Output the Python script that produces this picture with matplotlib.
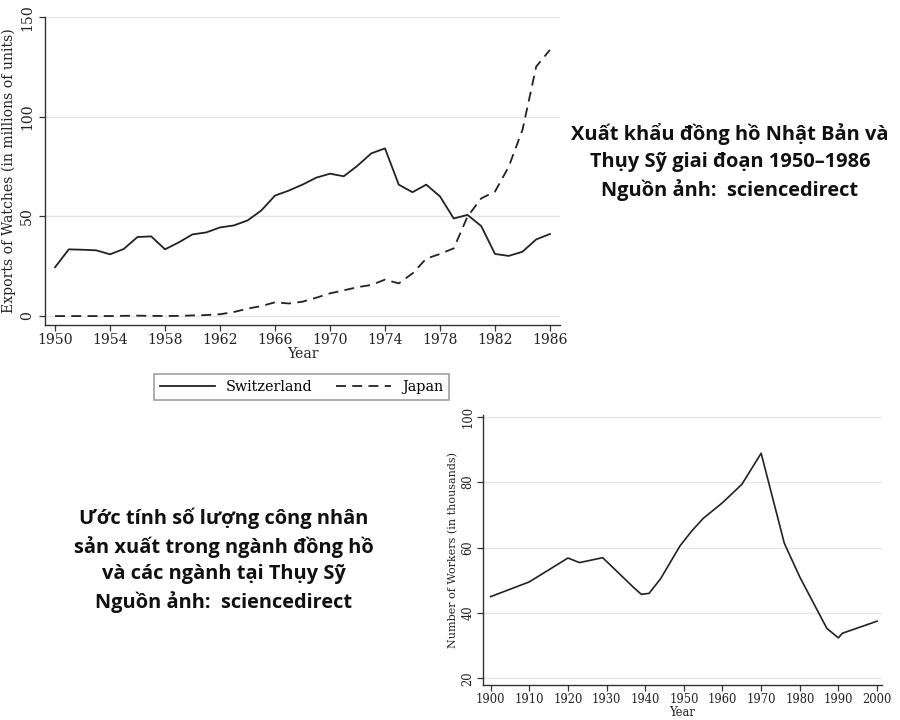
#!/usr/bin/env python3
"""Swiss vs Japanese watch exports, and Swiss watch-industry workers."""

import matplotlib
matplotlib.use("Agg")
import matplotlib.pyplot as plt

# Watch exports (millions of units), 1950-1986
export_years = list(range(1950, 1987))
switzerland = [24.5, 33.5, 33.3, 33.0, 31.0, 33.7, 39.7, 40.0, 33.5, 37.0,
               41.0, 42.0, 44.5, 45.5, 48.0, 53.0, 60.5, 63.0, 66.0, 69.5,
               71.5, 70.2, 75.5, 81.7, 84.2, 66.0, 62.2, 66.0, 60.1, 49.0,
               50.8, 45.2, 31.2, 30.2, 32.3, 38.5, 41.2]
japan = [0.0, 0.0, 0.0, 0.0, 0.0, 0.1, 0.2, 0.1, 0.0, 0.1,
         0.3, 0.5, 0.9, 2.0, 3.7, 5.0, 6.9, 6.3, 7.2, 9.2,
         11.4, 12.9, 14.5, 15.6, 18.3, 16.4, 21.4, 28.8, 31.2, 34.0,
         49.9, 59.1, 62.5, 75.0, 93.5, 125.3, 133.7]

# Number of workers in the Swiss watch industry (thousands)
worker_years = [1900, 1910, 1920, 1923, 1929, 1937, 1939, 1941, 1944, 1949,
                1952, 1955, 1960, 1965, 1970, 1976, 1980, 1987, 1990, 1991,
                2000]
workers = [45.0, 49.5, 56.8, 55.4, 56.9, 47.8, 45.7, 46.0, 50.5, 60.5,
           65.0, 68.9, 73.7, 79.3, 88.8, 61.3, 51.0, 35.3, 32.4, 33.8,
           37.5]

caption_top = "Xuất khẩu đồng hồ Nhật Bản và\nThụy Sỹ giai đoạn 1950–1986\nNguồn ảnh:  sciencedirect"
caption_bottom = ("Ước tính số lượng công nhân\nsản xuất trong ngành đồng hồ\n"
                  "và các ngành tại Thụy Sỹ\nNguồn ảnh:  sciencedirect")

W, H = 900, 720
line_col = "#222222"
grid_col = "#e6e6e6"
serif = "DejaVu Serif"


def px_axes(fig, left, top, right, bottom):
    """Add axes placed by pixel edges (origin top-left)."""
    return fig.add_axes([left / W, 1 - bottom / H, (right - left) / W, (bottom - top) / H])


def style(ax, fs, ypad):
    for side in ("top", "right"):
        ax.spines[side].set_visible(False)
    for side in ("left", "bottom"):
        ax.spines[side].set_color("#333333")
        ax.spines[side].set_linewidth(1.0)
    ax.tick_params(direction="out", length=4, width=0.9, colors="#333333",
                   labelsize=fs, labelcolor="#222222")
    ax.tick_params(axis="x", pad=2)
    ax.tick_params(axis="y", pad=ypad)
    for lab in ax.get_yticklabels():
        lab.set_rotation(90)
        lab.set_va("center")
        lab.set_fontfamily(serif)
    for lab in ax.get_xticklabels():
        lab.set_fontfamily(serif)
    ax.grid(axis="y", color=grid_col, linewidth=1.0)
    ax.set_axisbelow(True)


fig = plt.figure(figsize=(9, 7.2), dpi=100)

# Top chart
ax1 = px_axes(fig, 45, 17, 560, 325)
ax1.plot(export_years, switzerland, color=line_col, lw=1.3, label="Switzerland")
ax1.plot(export_years, japan, color=line_col, lw=1.3, dashes=(5.5, 3.5), label="Japan")
ax1.set_xlim(1949.27, 1986.73)
ax1.set_ylim(-4.5, 150.2)
ax1.set_xticks(range(1950, 1987, 4))
ax1.set_yticks([0, 50, 100, 150])
style(ax1, 10.1, 4)
ax1.set_xlabel("Year", fontsize=10.1, family=serif, color="#222222", labelpad=0)
ax1.set_ylabel("Exports of Watches (in millions of units)", fontsize=10.1,
               family=serif, color="#222222", labelpad=3)
leg = ax1.legend(loc="center", bbox_to_anchor=(301.5 / W, 1 - 387 / H),
                 bbox_transform=fig.transFigure, ncol=2, frameon=True,
                 fancybox=False, handlelength=3.8, columnspacing=1.6,
                 handletextpad=0.8, borderpad=0.4,
                 prop={"family": serif, "size": 10.4})
leg.get_frame().set_edgecolor("#888888")
leg.get_frame().set_linewidth(1.2)

# Bottom chart
ax2 = px_axes(fig, 483.3, 415, 881.7, 685)
ax2.plot(worker_years, workers, color=line_col, lw=1.2)
ax2.set_xlim(1898.1, 2001.2)
ax2.set_ylim(18, 100.5)
ax2.set_xticks(range(1900, 2001, 10))
ax2.set_yticks([20, 40, 60, 80, 100])
style(ax2, 8.3, 2.5)
ax2.set_xlabel("Year", fontsize=8.3, family=serif, color="#222222", labelpad=0)
ax2.set_ylabel("Number of Workers (in thousands)", fontsize=8.0,
               family=serif, color="#222222", labelpad=2)

# Captions
fig.text(730 / W, 1 - 162 / H, caption_top, ha="center", va="center",
         fontsize=14.4, fontweight="bold", family=["Open Sans", "DejaVu Sans"],
         linespacing=1.42, color="#111111")
fig.text(224 / W, 1 - 560 / H, caption_bottom, ha="center", va="center",
         fontsize=14.4, fontweight="bold", family=["Open Sans", "DejaVu Sans"],
         linespacing=1.42, color="#111111")

fig.savefig("out.png", dpi=100)
